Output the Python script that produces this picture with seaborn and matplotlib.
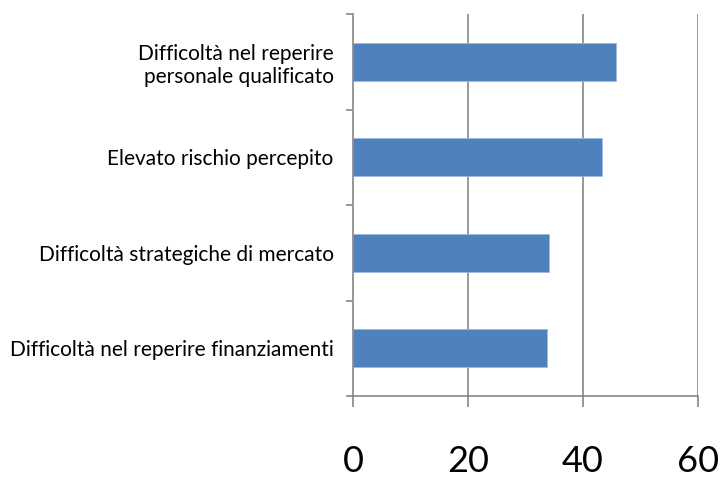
import matplotlib
matplotlib.use('Agg')
import matplotlib.pyplot as plt
import seaborn as sns
import pandas as pd

# ── Data ──────────────────────────────────────────────────────
CATEGORIES = [
    'Difficoltà nel reperire\npersonale qualificato',
    'Elevato rischio percepito',
    'Difficoltà strategiche di mercato',
    'Difficoltà nel reperire finanziamenti',
]
VALUES  = [45.8, 43.4, 34.1, 33.8]
X_TICKS = [0, 20, 40, 60]

BAR_COLOR  = '#4F81BD'
AXIS_COLOR = '#868686'

sns.set_theme(style='white')
plt.rcParams['font.family'] = ['Lato', 'DejaVu Sans']

df = pd.DataFrame({'cat': CATEGORIES, 'val': VALUES})

fig = plt.figure(figsize=(7.24, 4.78), dpi=100)
ax = fig.add_axes([0.4876, 0.1715, 0.4761, 0.7992])

sns.barplot(data=df, x='val', y='cat', orient='h', color=BAR_COLOR,
            width=0.4, saturation=1, edgecolor='#9dbbe0', linewidth=0.6, ax=ax)

ax.set_xlim(0, 60)
ax.set_ylim(len(CATEGORIES) - 0.5, -0.5)
ax.set_xticks(X_TICKS)
ax.set_xticklabels([str(t) for t in X_TICKS], fontsize=26, color='black')

# vertical gridlines
for t in X_TICKS[1:]:
    ax.axvline(t, color=AXIS_COLOR, linewidth=1.2, zorder=0)

# category boundaries as minor ticks, labels on centres
ax.set_yticks([i - 0.5 for i in range(len(CATEGORIES) + 1)], minor=True)
ax.tick_params(axis='y', which='major', length=0, pad=14, labelsize=15, labelcolor='black')
ax.tick_params(axis='y', which='minor', length=5, width=1.2, color=AXIS_COLOR, direction='out', left=True)
ax.tick_params(axis='x', which='major', length=8, width=1.2, color=AXIS_COLOR, direction='out', bottom=True, pad=27)
for lab in ax.get_yticklabels():
    lab.set_multialignment('right')

for side in ['top', 'right']:
    ax.spines[side].set_visible(False)
for side in ['left', 'bottom']:
    ax.spines[side].set_color(AXIS_COLOR)
    ax.spines[side].set_linewidth(1.2)

ax.set_xlabel('')
ax.set_ylabel('')

fig.savefig('out.png', dpi=100)
